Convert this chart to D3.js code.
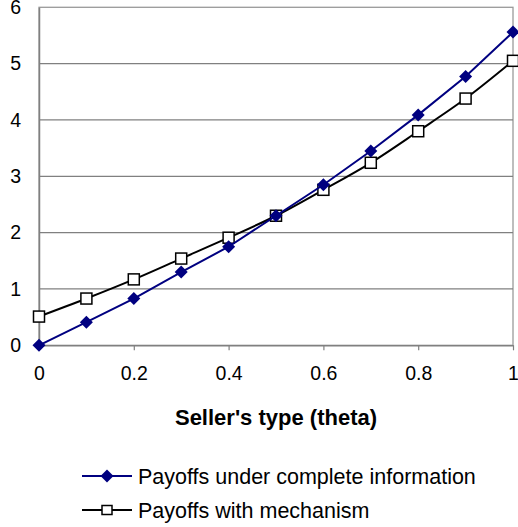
<!DOCTYPE html>
<html>
<head>
<meta charset="utf-8">
<script src="https://cdn.jsdelivr.net/npm/d3@7"></script>
<style>
  html, body { margin: 0; padding: 0; background: #fff; }
  svg { display: block; font-family: "Liberation Sans", Arial, sans-serif; }
</style>
</head>
<body>
<svg id="chart" width="518" height="527"></svg>
<script>
// Seller's type on the x axis
const theta = [0, 0.1, 0.2, 0.3, 0.4, 0.5, 0.6, 0.7, 0.8, 0.9, 1.0];
// Payoffs when the seller's type is known
const payoffComplete = [0, 0.41, 0.83, 1.30, 1.75, 2.30, 2.85, 3.45, 4.09, 4.77, 5.56];
// Payoffs under the mechanism
const payoffMechanism = [0.51, 0.83, 1.17, 1.54, 1.91, 2.30, 2.76, 3.24, 3.80, 4.38, 5.05];
const xTicks = [0, 0.2, 0.4, 0.6, 0.8, 1];
const yTicks = [0, 1, 2, 3, 4, 5, 6];
const xTitle = "Seller's type (theta)";
const seriesNames = ["Payoffs under complete information", "Payoffs with mechanism"];

const svg = d3.select("#chart");
const x = d3.scaleLinear().domain([0, 1]).range([39, 513]);
const y = d3.scaleLinear().domain([0, 6]).range([345.3, 7.3]);

// plot frame (top and right edges)
svg.append("rect")
  .attr("x", x(0)).attr("y", y(6))
  .attr("width", x(1) - x(0)).attr("height", y(0) - y(6))
  .attr("fill", "none").attr("stroke", "#9a9a9a").attr("stroke-width", 1.3);

// horizontal gridlines
svg.append("g").selectAll("line")
  .data(yTicks.filter(d => d > 0 && d < 6))
  .join("line")
  .attr("x1", x(0)).attr("x2", x(1))
  .attr("y1", d => y(d)).attr("y2", d => y(d))
  .attr("stroke", "#808080").attr("stroke-width", 1.2);

// y axis
const yAxis = svg.append("g")
  .attr("transform", `translate(${x(0)},0)`)
  .call(d3.axisLeft(y).tickValues(yTicks).tickSize(0).tickPadding(18).tickFormat(d3.format("d")));
yAxis.select(".domain").attr("stroke", "#808080").attr("stroke-width", 1.5);
yAxis.selectAll("text").attr("font-size", 19.5).attr("fill", "#000")
  .attr("font-family", "Liberation Sans, Arial, sans-serif");

// x axis
const xAxis = svg.append("g")
  .attr("transform", `translate(0,${y(0)})`)
  .call(d3.axisBottom(x).tickValues(xTicks).tickSizeInner(5).tickSizeOuter(0).tickPadding(16)
    .tickFormat(d => d === 0 || d === 1 ? String(d) : d3.format(".1f")(d)));
xAxis.select(".domain").attr("stroke", "#808080").attr("stroke-width", 1.5);
xAxis.selectAll(".tick line").attr("stroke", "#808080").attr("stroke-width", 1.2);
xAxis.selectAll("text").attr("font-size", 19.5).attr("fill", "#000")
  .attr("font-family", "Liberation Sans, Arial, sans-serif");

// axis title
svg.append("text")
  .attr("x", (x(0) + x(1)) / 2).attr("y", 425)
  .attr("text-anchor", "middle")
  .attr("font-size", 22).attr("font-weight", "bold")
  .text(xTitle);

const straight = d3.line().x((d, i) => x(theta[i])).y(d => y(d));
const smooth = d3.line().x((d, i) => x(theta[i])).y(d => y(d)).curve(d3.curveCatmullRom.alpha(0.5));

const diamond = s => `M0,${-s}L${s},0L0,${s}L${-s},0Z`;

// mechanism series: smoothed black line with hollow squares
svg.append("path").datum(payoffMechanism)
  .attr("d", smooth).attr("fill", "none").attr("stroke", "#000").attr("stroke-width", 2);
svg.append("g").selectAll("rect")
  .data(payoffMechanism)
  .join("rect")
  .attr("x", (d, i) => x(theta[i]) - 5.5).attr("y", d => y(d) - 5.5)
  .attr("width", 11).attr("height", 11)
  .attr("fill", "#fff").attr("stroke", "#000").attr("stroke-width", 1.5);

// complete-information series: navy line with filled diamonds
svg.append("path").datum(payoffComplete)
  .attr("d", straight).attr("fill", "none").attr("stroke", "#000080").attr("stroke-width", 2);
svg.append("g").selectAll("path")
  .data(payoffComplete)
  .join("path")
  .attr("transform", (d, i) => `translate(${x(theta[i])},${y(d)})`)
  .attr("d", diamond(6.5))
  .attr("fill", "#000080");

// legend
const legend = svg.append("g");
const rows = [476, 510];
rows.forEach((ry, k) => {
  legend.append("line")
    .attr("x1", 82).attr("x2", 132).attr("y1", ry).attr("y2", ry)
    .attr("stroke", k === 0 ? "#000080" : "#000").attr("stroke-width", 2);
  if (k === 0) {
    legend.append("path").attr("transform", `translate(107,${ry})`)
      .attr("d", diamond(6.5)).attr("fill", "#000080");
  } else {
    legend.append("rect").attr("x", 102).attr("y", ry - 4.5).attr("width", 10).attr("height", 9)
      .attr("fill", "#fff").attr("stroke", "#000").attr("stroke-width", 1.5);
  }
  legend.append("text")
    .attr("x", 138).attr("y", ry).attr("dy", "0.36em")
    .attr("font-size", 21.5)
    .text(seriesNames[k]);
});
</script>
</body>
</html>
